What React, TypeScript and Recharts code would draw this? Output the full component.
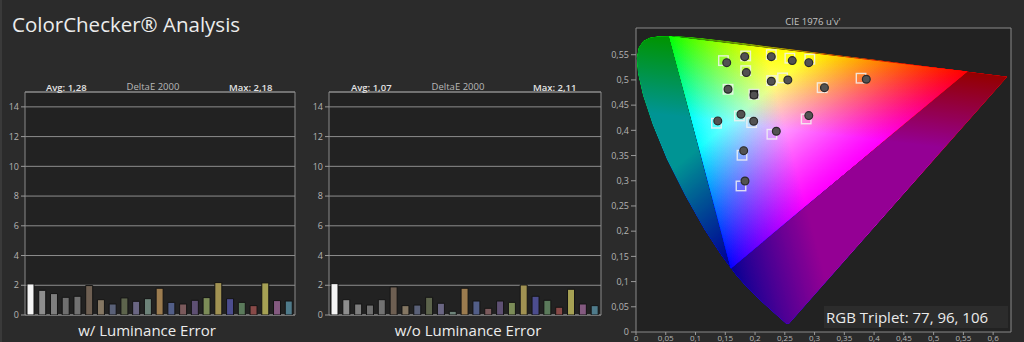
import React from 'react';
import { BarChart, Bar, Cell, XAxis, YAxis, CartesianGrid, ReferenceArea, ScatterChart, Scatter } from 'recharts';

// ColorChecker patches in chart order (black patch is not plotted)
const patchNames = [
  'White', 'Neutral 8', 'Neutral 6.5', 'Neutral 5', 'Neutral 3.5', 'Dark Skin', 'Light Skin',
  'Blue Sky', 'Foliage', 'Blue Flower', 'Bluish Green', 'Orange', 'Purplish Blue', 'Moderate Red',
  'Purple', 'Yellow Green', 'Orange Yellow', 'Blue', 'Green', 'Red', 'Yellow', 'Magenta', 'Cyan',
];
const patchColors = [
  '#f4f4f4', '#8e8e8e', '#7e7e7e', '#6f6f6f', '#727272', '#6e5f52', '#857763',
  '#5a6178', '#5d644c', '#6a6683', '#6d8379', '#9c7c4f', '#525e88', '#7b5a5c',
  '#5e5073', '#7c8c58', '#a19252', '#4c4d8e', '#5b7a5b', '#884a48', '#a6a154', '#845a80', '#4f7b8b',
];
const deltaWithLuminance = [
  2.09, 1.66, 1.44, 1.19, 1.26, 1.98, 1.03, 0.74, 1.15, 0.92, 1.1, 1.8,
  0.85, 0.74, 0.99, 1.17, 2.18, 1.1, 0.85, 0.63, 2.16, 0.97, 0.94,
];
const deltaWithoutLuminance = [
  2.11, 1.03, 0.74, 0.67, 1.03, 1.89, 0.63, 0.67, 1.19, 0.79, 0.25, 1.8,
  0.94, 0.45, 0.94, 0.85, 2.02, 1.26, 0.99, 0.52, 1.73, 0.74, 0.63,
];
const deltaTicks = [0, 2, 4, 6, 8, 10, 12, 14];

// CIE 1976 spectral locus, 380 nm -> 700 nm
const locusU = [
  0.2568, 0.2522, 0.2347, 0.2161, 0.1877, 0.169, 0.1441, 0.1147, 0.0828, 0.0521, 0.0282,
  0.0119, 0.0035, 0.0014, 0.0046, 0.0123, 0.0231, 0.036, 0.0501, 0.0643, 0.0792, 0.0953,
  0.1127, 0.1531, 0.2026, 0.2623, 0.3315, 0.4035, 0.5203, 0.583, 0.6234,
];
const locusV = [
  0.0166, 0.0169, 0.035, 0.0549, 0.0871, 0.1119, 0.151, 0.2044, 0.2708, 0.3427, 0.4117,
  0.4698, 0.5131, 0.5432, 0.5638, 0.577, 0.5837, 0.5861, 0.5868, 0.5865, 0.5856, 0.5841,
  0.5821, 0.5766, 0.5694, 0.5604, 0.5501, 0.5393, 0.5219, 0.5125, 0.5065,
];
// Rec.2020 primaries R, G, B
const gamutU = [0.5566, 0.0556, 0.1593];
const gamutV = [0.5165, 0.5868, 0.1258];

const targetU = [0.1469, 0.1843, 0.2273, 0.2585, 0.292, 0.1843, 0.2278, 0.2462, 0.3781, 0.1546, 0.1982, 0.3127, 0.1737, 0.1352, 0.1943, 0.2859, 0.2283, 0.1781, 0.1764];
const targetV = [0.5383, 0.5476, 0.5502, 0.5431, 0.5411, 0.5184, 0.4986, 0.504, 0.5034, 0.4815, 0.4716, 0.4847, 0.4286, 0.4141, 0.4153, 0.4226, 0.3923, 0.3506, 0.2897];
const measuredU = [0.1524, 0.1826, 0.2273, 0.2625, 0.2903, 0.1854, 0.2273, 0.2551, 0.3869, 0.1546, 0.1982, 0.3166, 0.1764, 0.1374, 0.1977, 0.2903, 0.2357, 0.1809, 0.1831];
const measuredV = [0.5343, 0.5462, 0.5462, 0.5383, 0.5343, 0.5145, 0.4974, 0.5, 0.5014, 0.4815, 0.4702, 0.4847, 0.4319, 0.4187, 0.4181, 0.4292, 0.3982, 0.3597, 0.2996];
const whitePointIndex = 10;

const uTicks = [0, 0.05, 0.1, 0.15, 0.2, 0.25, 0.3, 0.35, 0.4, 0.45, 0.5, 0.55, 0.6];
const vTicks = [0, 0.05, 0.1, 0.15, 0.2, 0.25, 0.3, 0.35, 0.4, 0.45, 0.5, 0.55];

const comma = (v: number) => String(v).replace('.', ',');
const tickStyle = { fill: '#b4b4b4', fontSize: 9, fontFamily: '"Open Sans", sans-serif' };

const toPath = (pts: any[]) => 'M' + pts.map((q) => `${q.x},${q.y}`).join('L') + 'Z';

const ColorField = ({ d }: { d: string }) => (
  <g filter="url(#cieBoost)" style={{ isolation: 'isolate' }}>
    <path d={d} fill="#000" />
    <path d={d} fill="url(#cieR)" style={{ mixBlendMode: 'screen' }} />
    <path d={d} fill="url(#cieG)" style={{ mixBlendMode: 'screen' }} />
    <path d={d} fill="url(#cieB)" style={{ mixBlendMode: 'screen' }} />
  </g>
);

const renderLocus = (p: any) => {
  const pts = p.points || [];
  if (pts.length < 3) return <g />;
  const d = toPath(pts);
  return (
    <g>
      <ColorField d={d} />
      <path d={d} fill="#000" fillOpacity={0.42} />
    </g>
  );
};

const foot = (v: any, a: any, b: any) => {
  const dx = b.x - a.x;
  const dy = b.y - a.y;
  const t = ((v.x - a.x) * dx + (v.y - a.y) * dy) / (dx * dx + dy * dy);
  return { x: a.x + t * dx, y: a.y + t * dy };
};

const renderGamut = (p: any) => {
  const pts = p.points || [];
  if (pts.length < 3) return <g />;
  const [r, g, b] = pts;
  const fr = foot(r, g, b);
  const fg = foot(g, b, r);
  const fb = foot(b, r, g);
  return (
    <g>
      <defs>
        <linearGradient id="cieR" gradientUnits="userSpaceOnUse" x1={r.x} y1={r.y} x2={fr.x} y2={fr.y}>
          <stop offset="0" stopColor="#ff0000" />
          <stop offset="1" stopColor="#000000" />
        </linearGradient>
        <linearGradient id="cieG" gradientUnits="userSpaceOnUse" x1={g.x} y1={g.y} x2={fg.x} y2={fg.y}>
          <stop offset="0" stopColor="#00ff00" />
          <stop offset="1" stopColor="#000000" />
        </linearGradient>
        <linearGradient id="cieB" gradientUnits="userSpaceOnUse" x1={b.x} y1={b.y} x2={fb.x} y2={fb.y}>
          <stop offset="0" stopColor="#0000ff" />
          <stop offset="1" stopColor="#000000" />
        </linearGradient>
        <filter id="cieBoost" colorInterpolationFilters="sRGB" x="-5%" y="-5%" width="110%" height="110%">
          <feComponentTransfer>
            <feFuncR type="gamma" amplitude={2.5} exponent={0.8} offset={0} />
            <feFuncG type="gamma" amplitude={2.2} exponent={1.2} offset={0} />
            <feFuncB type="gamma" amplitude={3} exponent={1.05} offset={0} />
          </feComponentTransfer>
        </filter>
      </defs>
      <ColorField d={toPath(pts)} />
    </g>
  );
};

const noMark = () => <g />;

const renderTarget = (p: any) => {
  const s = 9.5;
  const wp = p.payload && p.payload.wp;
  return (
    <rect x={p.cx - s / 2} y={p.cy - s / 2} width={s} height={s} fill={wp ? '#0d0d0d' : 'none'}
      stroke="#f2f2f2" strokeOpacity={0.85} strokeWidth={1.4} />
  );
};

const renderMeasured = (p: any) => (
  <circle cx={p.cx} cy={p.cy} r={3.9} fill="#525252" stroke="#2a2a2a" strokeWidth={1.2} />
);

function DeltaChart({ values, left, rightMargin }: { values: number[]; left: number; rightMargin: number }) {
  const data = patchNames.map((name, i) => ({ name, de: values[i] }));
  return (
    <div style={{ position: 'absolute', left, top: 0 }}>
      <BarChart width={310} height={342} data={data} margin={{ top: 92, right: rightMargin, bottom: 27, left: 5 }}>
        <CartesianGrid vertical={false} stroke="#8e8e8e" fill="#222222" />
        <XAxis dataKey="name" hide />
        <YAxis width={20} domain={[0, 15]} ticks={deltaTicks} interval={0} allowDataOverflow tickSize={4}
          tickLine={{ stroke: '#9a9a9a' }} axisLine={false} tick={tickStyle} />
        <ReferenceArea y1={0} y2={15} fill="none" stroke="#8a8a8a" />
        <Bar dataKey="de" barSize={7} isAnimationActive={false} stroke="#141414" strokeWidth={1}>
          {data.map((d, i) => <Cell key={d.name} fill={patchColors[i]} />)}
        </Bar>
      </BarChart>
    </div>
  );
}

const label = (text: string, x: number, y: number, size: number, color: string, align: 'left' | 'center' = 'left', weight = 400) => (
  <div style={{
    position: 'absolute', left: align === 'center' ? x - 150 : x, top: y, width: align === 'center' ? 300 : undefined,
    textAlign: align, fontSize: size, color, fontWeight: weight, whiteSpace: 'nowrap', lineHeight: 1,
  }}>{text}</div>
);

export default function App() {
  const locusData = locusU.map((u, i) => ({ u, v: locusV[i] }));
  const gamutData = gamutU.map((u, i) => ({ u, v: gamutV[i] }));
  const targetData = targetU.map((u, i) => ({ u, v: targetV[i], wp: i === whitePointIndex }));
  const measuredData = measuredU.map((u, i) => ({ u, v: measuredV[i] }));

  return (
    <div style={{
      position: 'fixed', left: 0, top: 0, width: 1024, height: 342, background: '#2b2b2b', overflow: 'hidden',
      fontFamily: '"Open Sans", sans-serif', borderLeft: '2px solid #3a3a3a', boxSizing: 'border-box',
    }}>
      <div style={{ position: 'absolute', left: -2, top: 0 }}>
        <DeltaChart values={deltaWithLuminance} left={0} rightMargin={15} />
        <DeltaChart values={deltaWithoutLuminance} left={304} rightMargin={13} />
        <div style={{ position: 'absolute', left: 600, top: 0 }}>
          <ScatterChart width={424} height={342} margin={{ top: 28, right: 13, bottom: 0, left: 6 }}>
            <CartesianGrid horizontal={false} vertical={false} fill="#222222" />
            <XAxis type="number" dataKey="u" domain={[0, 0.63]} ticks={uTicks} interval={0} allowDataOverflow height={10}
              tickSize={3} tickMargin={0} tickFormatter={comma} tick={{ ...tickStyle, fontSize: 8 }}
              tickLine={{ stroke: '#9a9a9a' }} axisLine={false} />
            <YAxis type="number" dataKey="v" domain={[0, 0.603]} ticks={vTicks} interval={0} allowDataOverflow width={30}
              tickSize={5} tickFormatter={comma} tick={tickStyle} tickLine={{ stroke: '#9a9a9a' }} axisLine={false} />
            <ReferenceArea x1={0} x2={0.63} y1={0} y2={0.603} fill="none" stroke="#8a8a8a" />
            <Scatter data={locusData} line={renderLocus} shape={noMark} isAnimationActive={false} />
            <Scatter data={gamutData} line={renderGamut} shape={noMark} isAnimationActive={false} />
            <Scatter data={targetData} shape={renderTarget} isAnimationActive={false} />
            <Scatter data={measuredData} shape={renderMeasured} isAnimationActive={false} />
          </ScatterChart>
        </div>

        {label('ColorChecker® Analysis', 12, 14, 20.5, '#ececec', 'left', 400)}
        {label('Avg: 1,28', 46, 83, 9.5, '#e4e4e4', 'left', 600)}
        {label('DeltaE 2000', 153, 82, 9.5, '#b8b8b8', 'center')}
        {label('Max: 2,18', 229, 83, 9.5, '#e4e4e4', 'left', 600)}
        {label('Avg: 1,07', 351, 83, 9.5, '#e4e4e4', 'left', 600)}
        {label('DeltaE 2000', 458, 82, 9.5, '#b8b8b8', 'center')}
        {label('Max: 2,11', 533, 83, 9.5, '#e4e4e4', 'left', 600)}
        {label('w/ Luminance Error', 147, 323, 15, '#ececec', 'center')}
        {label('w/o Luminance Error', 468, 323, 15, '#ececec', 'center')}
        {label("CIE 1976 u'v'", 813, 17, 9.5, '#c4c4c4', 'center')}
        <div style={{
          position: 'absolute', left: 824, top: 306, width: 184, height: 22, background: '#2c2c2c',
          color: '#eaeaea', fontSize: 15, lineHeight: '22px', paddingLeft: 2, boxSizing: 'border-box', whiteSpace: 'nowrap',
        }}>RGB Triplet: 77, 96, 106</div>
      </div>
    </div>
  );
}
